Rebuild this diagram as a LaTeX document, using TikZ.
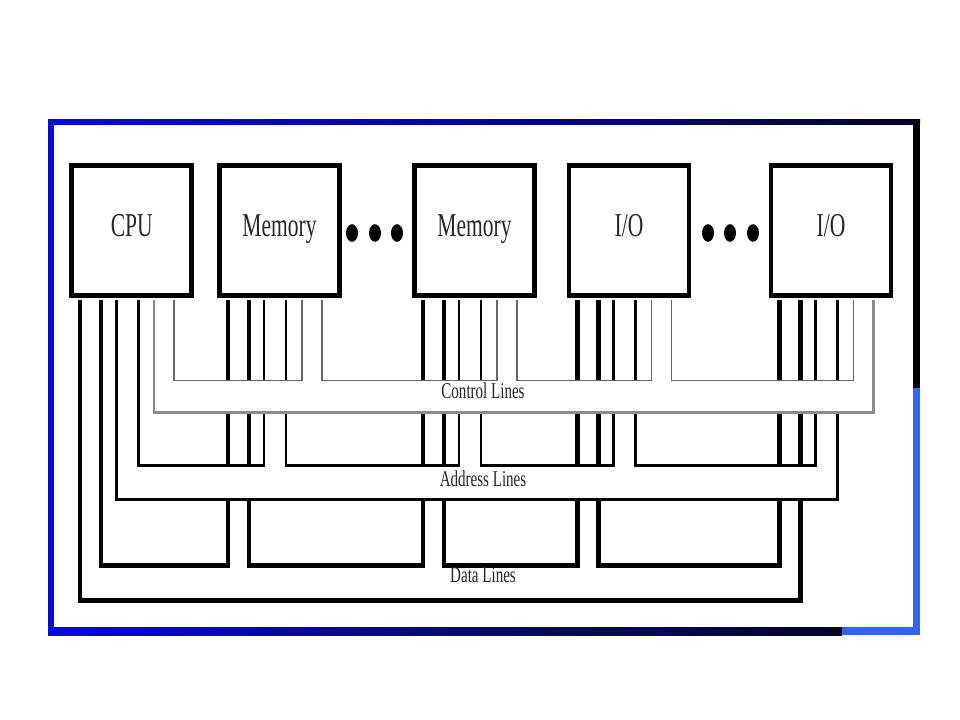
\documentclass[tikz,border=0pt]{standalone}
\usepackage{fontspec}
\usepackage{graphicx}
\setmainfont{Liberation Serif}
\usetikzlibrary{calc}
\definecolor{frameblue}{RGB}{8,8,225}
\definecolor{framenavy}{RGB}{5,5,40}
\definecolor{framelight}{RGB}{50,100,255}
\newcommand\vstretch[2][1.55]{\scalebox{1}[#1]{#2}}

\begin{document}
\begin{tikzpicture}[x=0.025cm,y=-0.025cm,
        modbox/.style={draw,line width=3.5pt,minimum width=3cm,minimum height=3.25cm,
            inner sep=0pt,text height=15pt,text depth=6pt,text=black!85,
            font=\fontsize{15.3}{18}\selectfont},
        buslabel/.style={inner sep=0pt,text depth=0pt,text=black!85,
            font=\fontsize{10.7}{13}\selectfont},
        dataline/.style={line width=3pt},
        addrline/.style={line width=2pt},
        ctrlline/.style={line width=1.3pt,black!60},
        ctrlouter/.style={line width=1.5pt,black!45}]
        \fill[white] (0,0) rectangle (960,720);
        \useasboundingbox (0,0) rectangle (960,720);
        %% Frame
        \shade[left color=frameblue,middle color=frameblue!85!black,right color=framenavy] (48,120) rectangle (920,125);
        \fill[frameblue] (48,120) rectangle (54,635);
        \fill[black] (913,120) rectangle (920,388);
        \fill[framelight] (913,388) rectangle (920,635);
        \shade[left color=frameblue,right color=framenavy] (48,627) rectangle (842,635);
        \fill[framelight] (842,627) rectangle (920,635);
        %% CPU, memories and I/O modules
        \node[modbox] (cpu) at (131.75,230.5) {\vstretch{CPU}};
        \node[modbox] (mema) at (279.5,230.5) {\vstretch{Memory}};
        \node[modbox] (memb) at (474.5,230.5) {\vstretch{Memory}};
        \node[modbox] (ioa) at (629,230.5) {\vstretch{I/O}};
        \node[modbox] (iob) at (831,230.5) {\vstretch{I/O}};
        \foreach \x in {352,375,397,708,730,753}
            \fill (\x,233) ellipse (0.15cm and 0.22cm);
        %% Data lines
        \foreach \a/\b in {cpu/mema,mema/memb,memb/ioa,ioa/iob}
            \draw[dataline] ($(\a.south west)+(32,2.5)$) |- ($(\b.south west)+(11,267.5)$) -- ($(\b.south west)+(11,2.5)$);
        \draw[dataline] ($(cpu.south west)+(11,2.5)$) |- ($(iob.south west)+(32,302.5)$) -- ($(iob.south west)+(32,2.5)$);
        %% Address lines
        \fill[white] ($(cpu.south west)+(47,167.5)$) rectangle ($(iob.south west)+(69,201.5)$);
        \foreach \a/\b in {cpu/mema,mema/memb,memb/ioa,ioa/iob}
            \draw[addrline] ($(\a.south west)+(69,2.5)$) |- ($(\b.south west)+(47,167.5)$) -- ($(\b.south west)+(47,2.5)$);
        \draw[addrline] ($(cpu.south west)+(47,2.5)$) |- ($(iob.south west)+(69,201.5)$) -- ($(iob.south west)+(69,2.5)$);
        %% Control lines
        \fill[white] ($(cpu.south west)+(85,82.5)$) rectangle ($(iob.south west)+(105,114.5)$);
        \foreach \a/\b in {cpu/mema,mema/memb,memb/ioa,ioa/iob}
            \draw[ctrlline] ($(\a.south west)+(105,2.5)$) |- ($(\b.south west)+(85,82.5)$) -- ($(\b.south west)+(85,2.5)$);
        \draw[ctrlouter] ($(cpu.south west)+(85,2.5)$) |- ($(iob.south west)+(105,114.5)$) -- ($(iob.south west)+(105,2.5)$);
        %% Labels
        \node[buslabel] (ctrl) at (483,391) {\vstretch[1.5]{Control Lines}};
        \node[buslabel] (addr) at (483,479) {\vstretch[1.5]{Address Lines}};
        \node[buslabel] (data) at (483,575) {\vstretch[1.5]{Data Lines}};
    \end{tikzpicture}
\end{document}
